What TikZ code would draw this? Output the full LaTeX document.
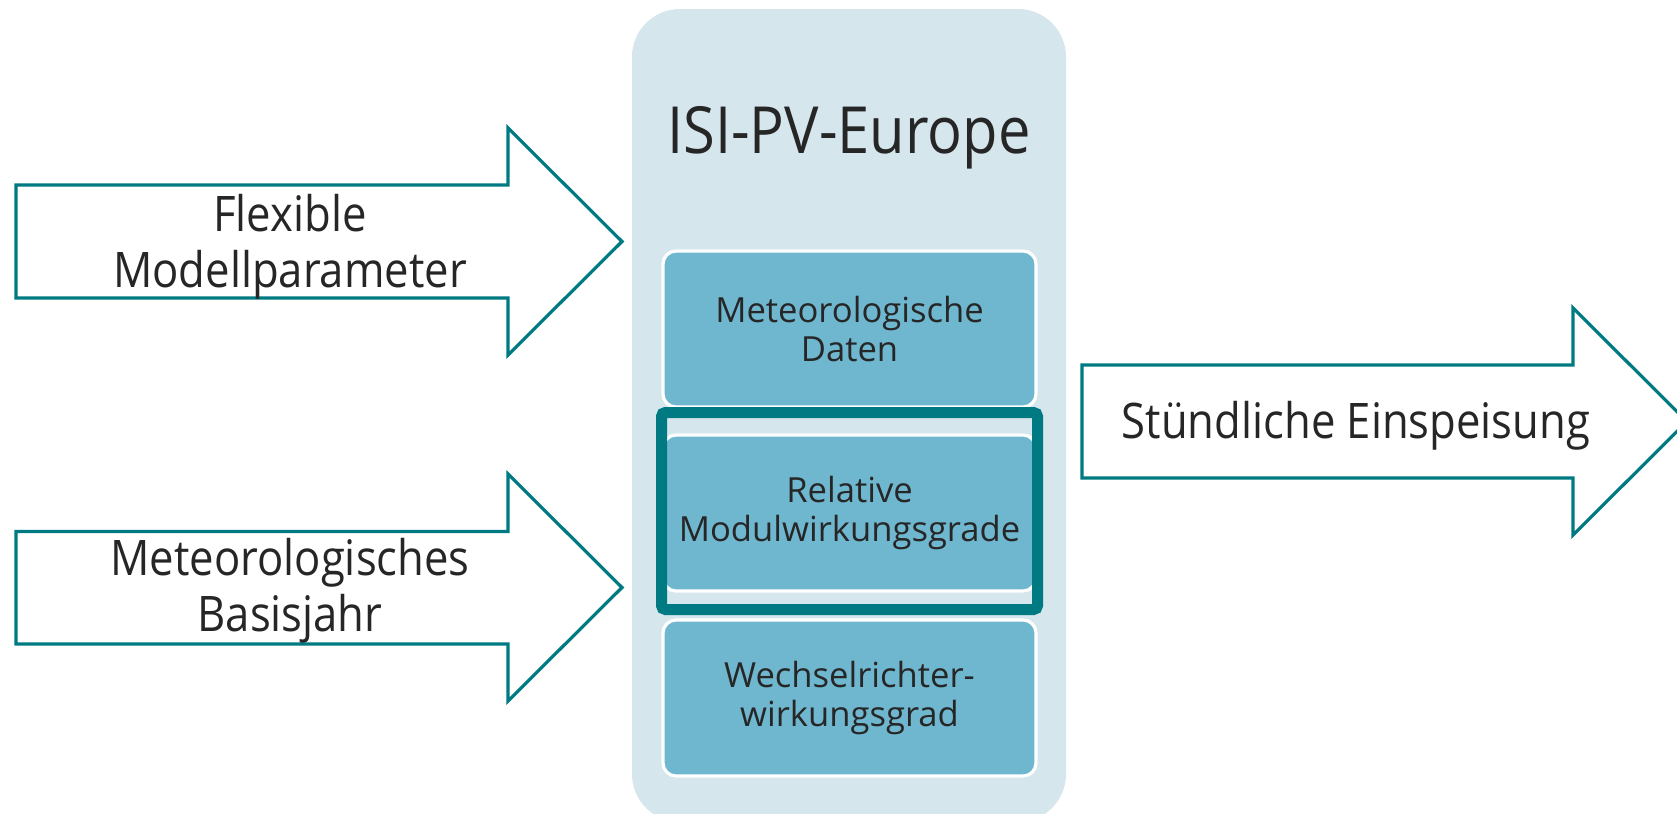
\documentclass[tikz,border=0pt]{standalone}
\usepackage{fontspec}
\setmainfont{Open Sans}
\newfontfamily\narrowfont[FakeStretch=0.89]{Open Sans}
\definecolor{teal}{HTML}{007A82}
\definecolor{panelc}{HTML}{D5E6ED}
\definecolor{boxc}{HTML}{6FB6CF}
\definecolor{textc}{HTML}{262626}
\tikzset{
  arrowshape/.style={draw=teal, line width=1.6pt, fill=white, line join=miter},
  arrowtext/.style={text=textc, align=center, anchor=base, inner sep=0pt, font=\narrowfont\fontsize{24.5}{27.8}\selectfont},
  modbox/.style={fill=boxc, draw=white, line width=1.6pt, rounded corners=6.5pt,
    minimum width=186.5pt, minimum height=78pt, inner sep=0pt, align=center,
    text=textc, font=\fontsize{17.3}{19.25}\selectfont},
  hiframe/.style={draw=teal, line width=5.5pt, rounded corners=2pt},
}
\begin{document}
\begin{tikzpicture}[x=0.5pt, y=-0.5pt]
\clip (0,0) rectangle (1677,814);
\fill[white] (0,0) rectangle (1677,814);
% central panel
\fill[panelc, rounded corners=24pt] (632,9) rectangle (1066,822);
\node[text=textc, anchor=base, inner sep=0pt, font=\narrowfont\fontsize{32.5}{38}\selectfont] (title) at (849,153) {ISI-PV-Europe};
% module boxes
\node[modbox] (b1) at (849.5,329) {Meteorologische\\Daten};
\node[modbox] (b3) at (849.5,698) {Wechselrichter-\\wirkungsgrad};
\node[modbox] (b2) at (849.5,513) {Relative\\Modulwirkungsgrade};
\draw[hiframe] (661.5,412.5) rectangle (1037.5,609.5);
% input arrows
\draw[arrowshape] (16,185) -- (508,185) -- (508,128) -- (622,241.5) -- (508,355) -- (508,298) -- (16,298) -- cycle;
\node[arrowtext] (a1) at (290,287) {Flexible\\Modellparameter};
\draw[arrowshape] (16,531.5) -- (508,531.5) -- (508,474) -- (622,587.5) -- (508,701) -- (508,644) -- (16,644) -- cycle;
\node[arrowtext] (a2) at (290,631) {Meteorologisches\\Basisjahr};
% output arrow
\draw[arrowshape] (1082,365) -- (1573,365) -- (1573,308) -- (1687,421.5) -- (1573,535) -- (1573,478) -- (1082,478) -- cycle;
\node[arrowtext] (a3) at (1356,438.5) {Stündliche Einspeisung};
\end{tikzpicture}
\end{document}
